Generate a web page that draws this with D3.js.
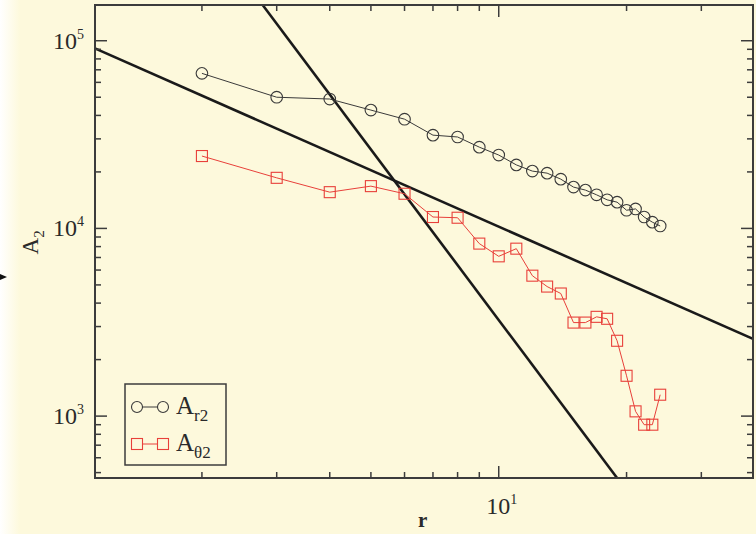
<!DOCTYPE html>
<html>
<head>
<meta charset="utf-8">
<script src="https://cdn.jsdelivr.net/npm/d3@7"></script>
<style>
  body { margin: 0; background: #ffffff; }
  svg text { font-family: "Liberation Serif", "Times New Roman", "DejaVu Serif", serif; fill: #2a2a2a; }
</style>
</head>
<body>
<div id="chart"></div>
<script>
// radius values (integer r = 2..24)
var rValues = [2, 3, 4, 5, 6, 7, 8, 9, 10, 11, 12, 13, 14, 15, 16, 17, 18, 19, 20, 21, 22, 23, 24];
// A_r2 amplitudes (circles)
var ar2Values = [67000, 50000, 48900, 42700, 38200, 31400, 30700, 27100, 24600, 21800, 20200, 19700,
                 18300, 16600, 16000, 15100, 14200, 13800, 12500, 12700, 11500, 10800, 10300];
// A_theta2 amplitudes (squares)
var at2Values = [24300, 18600, 15600, 16800, 15300, 11500, 11400, 8300, 7100, 7800, 5600, 4900,
                 4500, 3150, 3150, 3380, 3300, 2520, 1640, 1060, 900, 900, 1300];
// reference power-law lines, given by their end points [r, A]
var fitSlope1 = [[1.12, 91000], [40, 2560]];
var fitSlope3 = [[2.78, 155000], [19.0, 468]];
// axis ticks
var xMajorTicks = [10];
var xMinorTicks = [2, 3, 4, 5, 6, 7, 8, 9, 20, 30];
var yMajorTicks = [1000, 10000, 100000];
var yMinorTicks = [500, 600, 700, 800, 900, 2000, 3000, 4000, 5000, 6000, 7000, 8000, 9000,
                   20000, 30000, 40000, 50000, 60000, 70000, 80000, 90000];
var legendLabels = [{base: "A", sub: "r2"}, {base: "A", sub: "\u03b82"}];

var width = 756, height = 534;
var margin = {top: 5, right: 3, bottom: 56, left: 95};

var svg = d3.select("#chart").append("svg")
    .attr("width", width)
    .attr("height", height);

// paper background
var grad = svg.append("defs").append("linearGradient").attr("id", "fadeLeft");
grad.append("stop").attr("offset", "0").attr("stop-color", "#ffffff");
grad.append("stop").attr("offset", "1").attr("stop-color", "#fdf9dc");
svg.append("rect").attr("x", 0).attr("y", 0).attr("width", width).attr("height", height).attr("fill", "#fdf9dc");
svg.append("rect").attr("x", 0).attr("y", 0).attr("width", 20).attr("height", height).attr("fill", "url(#fadeLeft)");

var x = d3.scaleLog().domain([1.12, 39.7]).range([margin.left, width - margin.right]);
var y = d3.scaleLog().domain([468, 155000]).range([height - margin.bottom, margin.top]);

var x0 = x.range()[0], x1 = x.range()[1], y0 = y.range()[0], y1 = y.range()[1];

svg.append("defs").append("clipPath").attr("id", "plotClip")
  .append("rect").attr("x", x0).attr("y", y1).attr("width", x1 - x0).attr("height", y0 - y1);

var plot = svg.append("g").attr("clip-path", "url(#plotClip)");

var line = d3.line().x(function(d){ return x(d[0]); }).y(function(d){ return y(d[1]); });

// fitted lines
[fitSlope1, fitSlope3].forEach(function(pts){
    plot.append("path").attr("d", line(pts))
        .attr("fill", "none").attr("stroke", "#1a1a1a").attr("stroke-width", 2.6);
});

var circleData = rValues.map(function(r, i){ return [r, ar2Values[i]]; });
var squareData = rValues.map(function(r, i){ return [r, at2Values[i]]; });

plot.append("path").attr("d", line(circleData))
    .attr("fill", "none").attr("stroke", "#3a3a3a").attr("stroke-width", 1);
plot.selectAll("circle.ar2").data(circleData).enter().append("circle")
    .attr("class", "ar2")
    .attr("cx", function(d){ return x(d[0]); })
    .attr("cy", function(d){ return y(d[1]); })
    .attr("r", 5.8)
    .attr("fill", "none").attr("stroke", "#3a3a3a").attr("stroke-width", 1.1);

plot.append("path").attr("d", line(squareData))
    .attr("fill", "none").attr("stroke", "#e8403a").attr("stroke-width", 1);
plot.selectAll("rect.at2").data(squareData).enter().append("rect")
    .attr("class", "at2")
    .attr("x", function(d){ return x(d[0]) - 5.5; })
    .attr("y", function(d){ return y(d[1]) - 5.5; })
    .attr("width", 11).attr("height", 11)
    .attr("fill", "none").attr("stroke", "#e8403a").attr("stroke-width", 1.1);

// frame and inward ticks
var axisColor = "#3c3c3c";
svg.append("rect").attr("x", x0).attr("y", y1).attr("width", x1 - x0).attr("height", y0 - y1)
    .attr("fill", "none").attr("stroke", axisColor).attr("stroke-width", 2);

function addXTicks(vals, len){
    vals.forEach(function(v){
        svg.append("line").attr("x1", x(v)).attr("x2", x(v)).attr("y1", y0).attr("y2", y0 - len)
            .attr("stroke", axisColor).attr("stroke-width", 1.5);
        svg.append("line").attr("x1", x(v)).attr("x2", x(v)).attr("y1", y1).attr("y2", y1 + len)
            .attr("stroke", axisColor).attr("stroke-width", 1.5);
    });
}
function addYTicks(vals, len){
    vals.forEach(function(v){
        svg.append("line").attr("x1", x0).attr("x2", x0 + len).attr("y1", y(v)).attr("y2", y(v))
            .attr("stroke", axisColor).attr("stroke-width", 1.5);
        svg.append("line").attr("x1", x1).attr("x2", x1 - len).attr("y1", y(v)).attr("y2", y(v))
            .attr("stroke", axisColor).attr("stroke-width", 1.5);
    });
}
addXTicks(xMajorTicks, 12);
addXTicks(xMinorTicks, 6);
addYTicks(yMajorTicks, 12);
addYTicks(yMinorTicks.filter(function(v){ return y(v) <= y0 && y(v) >= y1; }), 6);

// tick labels, 10^n
function powerLabel(g, px, py, exp, anchorEnd){
    var t = g.append("text").attr("x", px).attr("y", py).attr("font-size", 24)
        .attr("text-anchor", anchorEnd ? "end" : "middle");
    t.append("tspan").text("10");
    t.append("tspan").attr("font-size", 14).attr("dy", -10).text(exp);
}
yMajorTicks.forEach(function(v){
    powerLabel(svg, x0 - 11, y(v) + 8, Math.round(Math.log10(v)), true);
});
xMajorTicks.forEach(function(v){
    powerLabel(svg, x(v) + 3, y0 + 36, Math.round(Math.log10(v)), false);
});

// axis titles
svg.append("text").attr("x", x(10) - 76).attr("y", 527).attr("font-size", 21)
    .attr("font-weight", "bold").attr("text-anchor", "middle").text("r");
var yt = svg.append("text").attr("transform", "translate(38," + (y(10000) + 14) + ") rotate(-90)")
    .attr("font-size", 23).attr("text-anchor", "middle");
yt.append("tspan").text("A");
yt.append("tspan").attr("font-size", 15).attr("dy", 6).text("2");

// stray arrow at the left edge
svg.append("path").attr("d", "M0,274 L7,277 L0,280 Z").attr("fill", "#111");

// legend
var lg = svg.append("g").attr("transform", "translate(125,384)");
lg.append("rect").attr("width", 101).attr("height", 81)
    .attr("fill", "#fdf9dc").attr("stroke", axisColor).attr("stroke-width", 1.5);
var legendColors = ["#3a3a3a", "#e8403a"];
legendLabels.forEach(function(l, i){
    var cy = 23 + i * 37;
    lg.append("line").attr("x1", 12).attr("x2", 38).attr("y1", cy).attr("y2", cy)
        .attr("stroke", legendColors[i]).attr("stroke-width", 1);
    [12, 38].forEach(function(cx){
        if (i === 0) {
            lg.append("circle").attr("cx", cx).attr("cy", cy).attr("r", 5.5)
                .attr("fill", "#fdf9dc").attr("stroke", legendColors[i]).attr("stroke-width", 1.1);
        } else {
            lg.append("rect").attr("x", cx - 5.5).attr("y", cy - 5.5).attr("width", 11).attr("height", 11)
                .attr("fill", "#fdf9dc").attr("stroke", legendColors[i]).attr("stroke-width", 1.1);
        }
    });
    var t = lg.append("text").attr("x", 51).attr("y", cy + 7).attr("font-size", 25);
    t.append("tspan").text(l.base);
    t.append("tspan").attr("font-size", 17).attr("dy", 7).text(l.sub);
});
</script>
</body>
</html>
